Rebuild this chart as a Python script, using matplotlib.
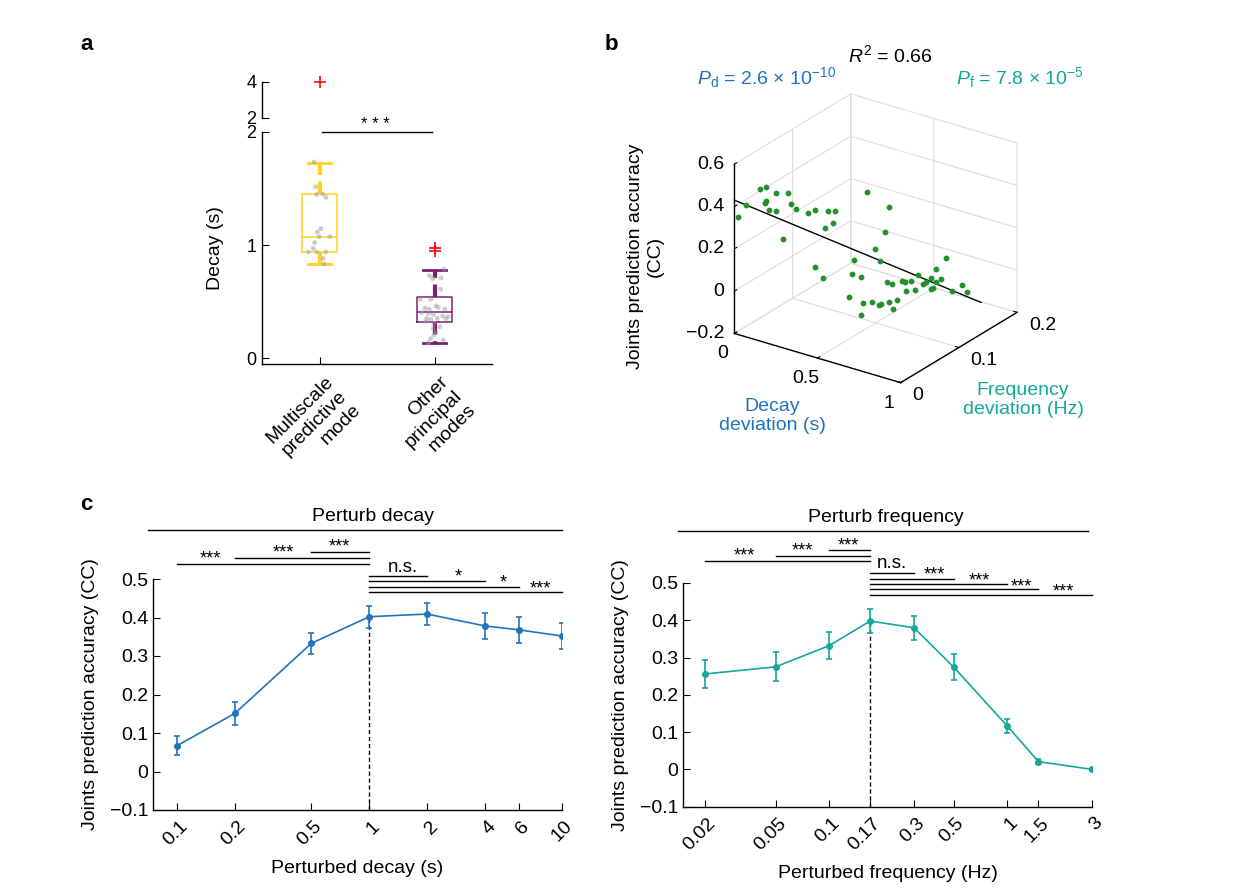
import matplotlib
matplotlib.use('Agg')
import matplotlib.pyplot as plt
import numpy as np
from matplotlib.transforms import ScaledTranslation
from matplotlib.ticker import NullFormatter

plt.rcParams['font.family'] = ['Liberation Sans', 'DejaVu Sans']
plt.rcParams['mathtext.fontset'] = 'custom'
plt.rcParams['mathtext.rm'] = 'Liberation Sans'
plt.rcParams['mathtext.it'] = 'Liberation Sans:italic'
plt.rcParams['axes.linewidth'] = 1.0

# ---------------- data ----------------
# panel a
mode_names = ['Multiscale\npredictive\nmode', 'Other\nprincipal\nmodes']
box_q1 = [0.94, 0.32]
box_med = [1.07, 0.41]
box_q3 = [1.45, 0.54]
box_wlo = [0.83, 0.13]
box_whi = [1.73, 0.78]
multiscale_decay = [1.735, 1.516, 1.448, 1.451, 1.422, 1.145, 1.115, 1.074,
                    1.074, 1.021, 0.970, 0.938, 0.938, 0.938, 0.882, 0.832]
multiscale_jitter = [-0.045, -0.033, -0.024, 0.028, 0.057, 0.013, -0.019, -0.002,
                     0.091, -0.042, -0.054, -0.097, -0.024, 0.054, 0.033, 0.039]
other_decay = [0.785, 0.730, 0.702, 0.708, 0.608, 0.519, 0.519, 0.440, 0.431, 0.460,
               0.448, 0.431, 0.401, 0.395, 0.386, 0.372, 0.366, 0.351, 0.342, 0.351,
               0.348, 0.322, 0.307, 0.277, 0.263, 0.224, 0.204, 0.171, 0.159, 0.135]
other_jitter = [0.083, -0.045, -0.016, 0.057, 0.054, -0.126, -0.033, -0.083, -0.045, 0.013,
                0.033, 0.091, -0.111, -0.054, -0.010, 0.071, 0.120, -0.068, -0.033, 0.024,
                0.100, -0.074, -0.004, 0.048, -0.010, 0.013, -0.004, -0.033, 0.077, -0.054]
multiscale_outliers = [4.0]
other_outliers = [0.97, 0.95]

# panel b
dev_decay = [0.02, 0.05, 0.11, 0.13, 0.13, 0.13, 0.14, 0.17, 0.17, 0.20, 0.22, 0.23,
             0.25, 0.29, 0.32, 0.36, 0.37, 0.39, 0.40, 0.32, 0.35, 0.52, 0.61, 0.59,
             0.55, 0.57, 0.47, 0.46, 0.50, 0.45, 0.51, 0.50, 0.54, 0.57, 0.58, 0.61,
             0.62, 0.64, 0.60, 0.62, 0.66, 0.67, 0.67, 0.69, 0.71, 0.72, 0.74, 0.75,
             0.77, 0.77, 0.78, 0.79, 0.79, 0.81, 0.83, 0.85, 0.89, 0.91]
dev_freq = [0.000, 0.005, 0.013, 0.017, 0.017, 0.016, 0.019, 0.023, 0.023, 0.027, 0.030, 0.032,
            0.035, 0.043, 0.047, 0.053, 0.055, 0.058, 0.059, 0.047, 0.052, 0.079, 0.092, 0.090,
            0.084, 0.087, 0.071, 0.070, 0.075, 0.068, 0.076, 0.075, 0.082, 0.086, 0.087, 0.092,
            0.095, 0.097, 0.091, 0.094, 0.100, 0.101, 0.103, 0.106, 0.108, 0.110, 0.112, 0.115,
            0.117, 0.117, 0.119, 0.120, 0.121, 0.123, 0.127, 0.131, 0.136, 0.140]
cc_points = [0.355, 0.409, 0.487, 0.492, 0.427, 0.418, 0.386, 0.466, 0.381, 0.246, 0.464, 0.411,
             0.390, 0.366, 0.382, 0.292, 0.373, 0.318, 0.372, 0.109, 0.059, 0.456, 0.385, 0.267,
             0.187, 0.129, 0.138, 0.071, 0.057, -0.038, -0.064, -0.119, -0.064, -0.075, -0.071, -0.061,
             -0.096, -0.054, 0.033, 0.021, 0.037, 0.031, -0.014, 0.034, -0.009, 0.061, 0.022, 0.028,
             0.046, -0.005, -0.002, 0.027, 0.085, 0.042, 0.138, -0.017, 0.012, -0.024]
fit_decay = [0.0, 1.0]
fit_freq = [0.0, 0.138]
fit_cc = [0.43, -0.05]
b_decay_ticks = [0, 0.5, 1]
b_decay_labels = ['0', '0.5', '1']
b_freq_ticks = [0, 0.1, 0.2]
b_freq_labels = ['0', '0.1', '0.2']
b_cc_ticks = [-0.2, 0, 0.2, 0.4, 0.6]
b_cc_labels = ['\u22120.2', '0', '0.2', '0.4', '0.6']

# panel c
decay_x = [0.1, 0.2, 0.5, 1, 2, 4, 6, 10]
decay_labels = ['0.1', '0.2', '0.5', '1', '2', '4', '6', '10']
decay_cc = [0.067, 0.151, 0.333, 0.402, 0.409, 0.378, 0.368, 0.352]
decay_err = [0.025, 0.030, 0.028, 0.029, 0.029, 0.033, 0.033, 0.033]
freq_x = [0.02, 0.05, 0.1, 0.17, 0.3, 0.5, 1, 1.5, 3]
freq_labels = ['0.02', '0.05', '0.1', '0.17', '0.3', '0.5', '1', '1.5', '3']
freq_cc = [0.256, 0.275, 0.332, 0.398, 0.380, 0.275, 0.117, 0.021, 0.0]
freq_err = [0.037, 0.039, 0.037, 0.031, 0.032, 0.034, 0.019, 0.007, 0.003]

decay_cmp_from = [0.1, 0.2, 0.5, 1, 1, 1, 1]
decay_cmp_to = [1, 1, 1, 2, 4, 6, 10]
decay_cmp_sig = ['***', '***', '***', 'n.s.', '*', '*', '***']
freq_cmp_from = [0.02, 0.05, 0.1, 0.17, 0.17, 0.17, 0.17, 0.17]
freq_cmp_to = [0.17, 0.17, 0.17, 0.3, 0.5, 1, 1.5, 3]
freq_cmp_sig = ['***', '***', '***', 'n.s.', '***', '***', '***', '***']

# ---------------- layout / style ----------------
blue = '#1f74c1'
teal = '#14a79b'
green = '#22912a'
gold = '#ffd21f'
purple = '#7d1f70'
FS = 14
MINUS = '\u2212'

decay_bar_y = [0.539, 0.555, 0.571, 0.509, 0.496, 0.480, 0.466]
decay_lab_x = [0.149, 0.357, 0.698, 1.50, 2.91, 4.99, 7.78]
decay_lab_y = [0.553, 0.567, 0.583, 0.531, 0.505, 0.490, 0.474]
freq_bar_y = [0.558, 0.573, 0.589, 0.528, 0.512, 0.497, 0.483, 0.468]
freq_lab_x = [0.0333, 0.0705, 0.129, 0.226, 0.388, 0.697, 1.21, 2.07]
freq_lab_y = [0.572, 0.585, 0.600, 0.553, 0.521, 0.505, 0.490, 0.476]

W, H = 1251, 891
fig = plt.figure(figsize=(W / 100, H / 100), dpi=100)


def rect(x0, y0, x1, y1):
    return [x0 / W, 1 - y1 / H, (x1 - x0) / W, (y1 - y0) / H]


# ---------------- panel a ----------------
FSA = 13
axa = fig.add_axes(rect(262, 132, 492, 364))
stats = []
for i in range(2):
    stats.append(dict(med=box_med[i], q1=box_q1[i], q3=box_q3[i],
                      whislo=box_wlo[i], whishi=box_whi[i], fliers=[]))
for i, col in enumerate([gold, purple]):
    axa.bxp([stats[i]], positions=[i + 1], widths=0.3, capwidths=0.2,
            boxprops=dict(color=col, linewidth=1.1),
            medianprops=dict(color=col, linewidth=1.1),
            whiskerprops=dict(color=col, linewidth=3, linestyle=(0, (3, 1.6))),
            capprops=dict(color=col, linewidth=2),
            showfliers=False, manage_ticks=False)
axa.scatter(np.array(multiscale_jitter) + 1, multiscale_decay, s=12,
            color='#9a9a9a', alpha=0.5, edgecolors='none', zorder=3)
axa.scatter(np.array(other_jitter) + 2, other_decay, s=12,
            color='#9a9a9a', alpha=0.5, edgecolors='none', zorder=3)
axa.plot([2] * len(other_outliers), other_outliers, '+', color='red',
         ms=8, mew=1.2, zorder=4)
axa.set_xlim(0.5, 2.5)
axa.set_ylim(-0.053, 2.0)
axa.set_yticks([0, 1, 2])
axa.set_yticklabels(['0', '1', '2'])
axa.set_xticks([1, 2])
axa.set_xticklabels(mode_names, rotation=45, ha='right', va='top',
                    rotation_mode='anchor', multialignment='right')
axa.tick_params(direction='in', length=5, labelsize=FSA, pad=4)
axa.tick_params(axis='x', labelsize=FS)
for lab in axa.get_xticklabels():
    lab.set_transform(lab.get_transform() + ScaledTranslation(5 / 100, -4 / 100, fig.dpi_scale_trans))
axa.spines['top'].set_visible(False)
axa.spines['right'].set_visible(False)
axa.set_ylabel('Decay (s)', fontsize=FS, labelpad=16)
axa.plot([1.02, 1.98], [2.0, 2.0], color='k', lw=1, clip_on=False)
axa.text(1.49, 2.07, '* * *', ha='center', va='center', fontsize=12)

axa2 = fig.add_axes(rect(262, 82, 492, 118))
axa2.patch.set_alpha(0)
axa2.set_xlim(0.5, 2.5)
axa2.set_ylim(2, 4)
axa2.set_yticks([2, 4])
axa2.set_yticklabels(['2', '4'])
axa2.set_xticks([])
for s in ['top', 'right', 'bottom']:
    axa2.spines[s].set_visible(False)
axa2.tick_params(direction='in', length=5, labelsize=FSA, pad=4)
axa2.plot([1] * len(multiscale_outliers), multiscale_outliers, '+', color='red',
          ms=8, mew=1.2, clip_on=False)

fig.text(80 / W, 1 - 45 / H, 'a', fontsize=16, fontweight='bold', ha='left', va='center')

# ---------------- panel b ----------------
axb = fig.add_axes(rect(691, 68, 1051, 418), projection='3d')
axb.set_proj_type('ortho')
axb.view_init(elev=25, azim=-55)
axb.set_box_aspect((1, 1, 0.92), zoom=0.95)
axb.patch.set_alpha(0)
axb.scatter(dev_decay, dev_freq, cc_points, color=green, s=10, depthshade=False, alpha=1)
axb.plot(fit_decay, fit_freq, fit_cc, color='k', lw=1)
axb.set_xlim(0, 1)
axb.set_ylim(0, 0.2)
axb.set_zlim(-0.2, 0.6)
axb.set_xticks(b_decay_ticks)
axb.set_yticks(b_freq_ticks)
axb.set_zticks(b_cc_ticks)
axb.zaxis.set_ticks_position('lower')
for axis in (axb.xaxis, axb.yaxis, axb.zaxis):
    axis.set_major_formatter(NullFormatter())
    axis.set_pane_color((1, 1, 1, 0))
    axis.pane.set_edgecolor('#d4d4d4')
    axis._axinfo['grid'].update(color='#dedede', linewidth=0.8)
    axis._axinfo['axisline']['color'] = 'k'
    axis.line.set_color('k')
    axis.line.set_linewidth(1.0)
    axis._axinfo['tick'].update(inward_factor=0.0, outward_factor=0.25)
    axis.label.set_visible(False)

# tick labels: 3D positions just outside the axis lines, projected to 2D
M = axb.get_proj()


def proj2d(x, y, z):
    v = M @ np.array([x, y, z, 1.0])
    return v[0] / v[3], v[1] / v[3]


for t, s in zip(b_cc_ticks, b_cc_labels):
    px, py = proj2d(-0.040, -0.0056, t)
    axb.text2D(px, py, s, transform=axb.transData, ha='right', va='center', fontsize=FS)
for t, s in zip(b_decay_ticks, b_decay_labels):
    px, py = proj2d(t, -0.0209, -0.262)
    axb.text2D(px, py, s, transform=axb.transData, ha='center', va='center', fontsize=FS)
for t, s in zip(b_freq_ticks, b_freq_labels):
    px, py = proj2d(1.071, t, -0.2456)
    axb.text2D(px, py, s, transform=axb.transData, ha='left', va='center', fontsize=FS)

fig.text(611 / W, 1 - 45 / H, 'b', fontsize=16, fontweight='bold', ha='center', va='center')
fig.text(890 / W, 1 - 55 / H, r'$R^2$ = 0.66', fontsize=FS, ha='center', va='center')
fig.text(767 / W, 1 - 78 / H, r'$P_{\rm d}$ = 2.6 × 10$^{-10}$', fontsize=FS,
         ha='center', va='center', color=blue)
fig.text(1020 / W, 1 - 78 / H, r'$P_{\rm f}$ = 7.8 × 10$^{-5}$', fontsize=FS,
         ha='center', va='center', color=teal)
fig.text(772 / W, 1 - 416 / H, 'Decay\ndeviation (s)', fontsize=FS, ha='center',
         va='center', color=blue, linespacing=1.2)
fig.text(1023 / W, 1 - 400 / H, 'Frequency\ndeviation (Hz)', fontsize=FS, ha='center',
         va='center', color=teal, linespacing=1.2)
fig.text(645 / W, 1 - 256 / H, 'Joints prediction accuracy\n(CC)', fontsize=FS, ha='center',
         va='center', rotation=90, linespacing=1.2)

# ---------------- panel c ----------------
def line_panel(ax, x, y, err, col, labels, ref, ref_y, xlim, xlabel,
               cfrom, cto, csig, bar_y, lab_x, lab_y, title, title_x, title_y,
               tline_x, tline_y):
    ax.errorbar(x, y, yerr=err, color=col, marker='o', ms=4, lw=1.2,
                elinewidth=1.2, capsize=2.5, capthick=1.2, zorder=3)
    ax.set_xscale('log')
    ax.set_xlim(*xlim)
    ax.set_ylim(-0.1, 0.5)
    ax.vlines([ref], -0.1, ref_y, colors='k', linestyles=(0, (3, 2)), lw=1, zorder=2)
    ax.set_xticks(x)
    ax.set_xticklabels(labels, rotation=45, ha='right', va='center', rotation_mode='anchor')
    ax.minorticks_off()
    ax.set_yticks([-0.1, 0, 0.1, 0.2, 0.3, 0.4, 0.5])
    ax.set_yticklabels([MINUS + '0.1', '0', '0.1', '0.2', '0.3', '0.4', '0.5'])
    ax.tick_params(direction='in', length=5, labelsize=FS)
    ax.tick_params(axis='x', pad=10)
    for lab in ax.get_xticklabels():
        lab.set_transform(lab.get_transform() + ScaledTranslation(8 / 100, 0, fig.dpi_scale_trans))
    ax.spines['top'].set_visible(False)
    ax.spines['right'].set_visible(False)
    ax.set_xlabel(xlabel, fontsize=FS, labelpad=8)
    ax.set_ylabel('Joints prediction accuracy (CC)', fontsize=FS, labelpad=8)
    for a, b, s, by, lx, ly in zip(cfrom, cto, csig, bar_y, lab_x, lab_y):
        ax.plot([a, b], [by, by], color='k', lw=1, clip_on=False)
        ax.text(lx, ly, s, ha='center', va='center',
                fontsize=13.5 if s == 'n.s.' else 13, clip_on=False)
    ax.plot(tline_x, [tline_y, tline_y], color='k', lw=1, clip_on=False)
    ax.text(title_x, title_y, title, ha='center', va='center', fontsize=FS)


axc1 = fig.add_axes(rect(153, 579, 561.5, 810))
line_panel(axc1, decay_x, decay_cc, decay_err, blue, decay_labels, 1, decay_cc[3],
           (0.075, 10), 'Perturbed decay (s)', decay_cmp_from, decay_cmp_to,
           decay_cmp_sig, decay_bar_y, decay_lab_x, decay_lab_y,
           'Perturb decay', 1.04, 0.663, [0.0706, 10], 0.626)

axc2 = fig.add_axes(rect(683, 583, 1092, 806.7))
line_panel(axc2, freq_x, freq_cc, freq_err, teal, freq_labels, 0.17, freq_cc[3],
           (0.0151, 3), 'Perturbed frequency (Hz)', freq_cmp_from, freq_cmp_to,
           freq_cmp_sig, freq_bar_y, freq_lab_x, freq_lab_y,
           'Perturb frequency', 0.207, 0.675, [0.01416, 2.85], 0.640)

fig.text(80 / W, 1 - 505 / H, 'c', fontsize=16, fontweight='bold', ha='left', va='center')

fig.savefig('out.png', dpi=100)
